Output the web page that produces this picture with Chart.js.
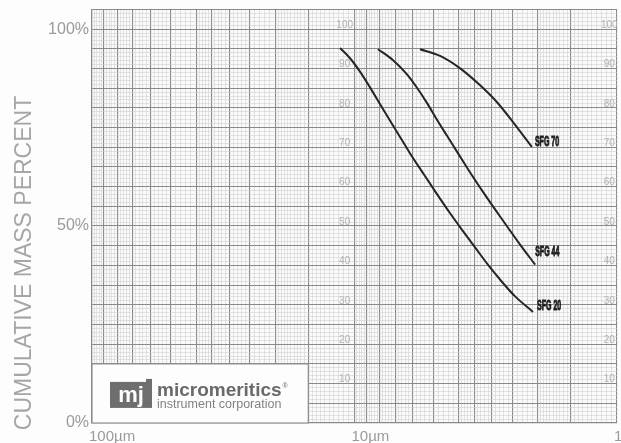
<!DOCTYPE html>
<html>
<head>
<meta charset="utf-8">
<title>Sedigraph SFG</title>
<script src="https://cdn.jsdelivr.net/npm/chart.js@4.4.1/dist/chart.umd.min.js"></script>
<style>
  html, body { margin: 0; padding: 0; background: #fdfdfd; }
  #wrap { width: 621px; height: 443px; }
</style>
</head>
<body>
<div id="wrap"><canvas id="chart" width="621" height="443"></canvas></div>
<script>
// particle size (µm) vs cumulative mass percent
const sfg20Size = [11.35, 10.4, 9.53, 8.73, 7.79, 6.89, 6.15, 5.49, 4.85, 4.33, 3.86, 3.44, 3.07, 2.74, 2.45, 2.09];
const sfg20Pct  = [95.2, 92.6, 89.2, 85.2, 79.7, 73.9, 68.5, 63.5, 58.1, 53.3, 48.7, 44.2, 39.8, 35.8, 32.2, 28.2];

const sfg44Size = [8.14, 7.13, 6.31, 5.78, 5.29, 4.85, 4.44, 4.07, 3.70, 3.13, 2.72, 2.34, 2.05];
const sfg44Pct  = [94.9, 92.1, 88.5, 85.1, 81.2, 77.0, 72.9, 68.9, 64.5, 57.2, 51.4, 45.3, 40.2];

const sfg70Size = [5.63, 4.72, 3.97, 3.33, 2.87, 2.49, 2.11];
const sfg70Pct  = [94.9, 93.2, 90.1, 85.8, 81.5, 76.4, 70.1];

const seriesNames = ["SFG 20", "SFG 44", "SFG 70"];

// axis labels
const xLabelValues = [100, 10, 1];
const xLabelText = ["100µm", "10µm", "1"];
const yLabelValues = [0, 50, 100];
const innerLabelValues = [100, 90, 80, 70, 60, 50, 40, 30, 20, 10];

// heavier lines of the log paper
const xMajor = [100, 90, 80, 70, 60, 50, 40, 35, 30, 25, 20, 15, 10, 9, 8, 7, 6, 5, 4, 3.5, 3, 2.5, 2, 1.5, 1];

const GRID_MAJOR = "#8a8a8a";
const GRID_MINOR = "#cbcbcb";
const LABEL_GREY = "#9a9a9a";
const FONT = "'Liberation Sans', Arial, sans-serif";

function isMajorX(v) {
  return xMajor.some(m => Math.abs(m - v) < 1e-6);
}

// fine lines: step 2 from 100 to 40, 1 to 20, 0.5 to 10, same again one decade down
function buildXGrid() {
  const bands = [[40, 100, 2], [20, 40, 1], [10, 20, 0.5]];
  const out = [100];
  for (const dec of [1, 0.1]) {
    for (const [a, b, s] of bands) {
      for (let v = a; v < b - 1e-9; v += s) out.push(+(v * dec).toFixed(4));
    }
  }
  return out.sort((p, q) => p - q);
}

const xGrid = buildXGrid();
const yGrid = [];
for (let v = 0; v <= 105; v++) yGrid.push(v);

const paperPlugin = {
  id: "paper",
  beforeDraw(chart) {
    const { ctx, chartArea: a } = chart;
    ctx.save();
    ctx.fillStyle = "#fdfdfd";
    ctx.fillRect(0, 0, chart.width, chart.height);
    ctx.fillStyle = "#fafafa";
    ctx.fillRect(a.left, a.top, a.right - a.left, a.bottom - a.top);
    ctx.restore();
  },
  beforeDatasetsDraw(chart) {
    const { ctx, scales: { x, y } } = chart;
    ctx.save();

    // percent figures printed on the paper
    ctx.font = "10px " + FONT;
    ctx.fillStyle = "#b3b3b3";
    ctx.textAlign = "center";
    ctx.textBaseline = "middle";
    for (const col of [10.9, 1.07]) {
      const cx = x.getPixelForValue(col);
      innerLabelValues.forEach(v => ctx.fillText(String(v), cx, y.getPixelForValue(v) - 4));
    }

    // logo panel, bottom left
    const l = x.getPixelForValue(100), r = x.getPixelForValue(15);
    const t = y.getPixelForValue(15), b = y.getPixelForValue(0);
    ctx.fillStyle = "#fdfdfd";
    ctx.fillRect(l, t, r - l, b - t);
    ctx.strokeStyle = GRID_MAJOR;
    ctx.lineWidth = 1.1;
    ctx.strokeRect(l, t, r - l, b - t);

    ctx.fillStyle = "#6e6e6e";
    ctx.fillRect(l + 18, t + 18, 42, 26);
    ctx.fillRect(l + 54, t + 15, 6, 4);
    ctx.fillStyle = "#fdfdfd";
    ctx.font = "bold 22px " + FONT;
    ctx.textAlign = "center";
    ctx.textBaseline = "alphabetic";
    ctx.fillText("mj", l + 39, t + 38);

    ctx.textAlign = "left";
    ctx.fillStyle = "#6a6a6a";
    ctx.font = "bold 19px " + FONT;
    ctx.fillText("micromeritics", l + 65, t + 32);
    const w = ctx.measureText("micromeritics").width;
    ctx.font = "7px " + FONT;
    ctx.fillText("®", l + 66 + w, t + 24);
    ctx.fillStyle = "#828282";
    ctx.font = "12.5px " + FONT;
    ctx.fillText("instrument corporation", l + 65, t + 44);
    ctx.restore();
  },
  afterDatasetsDraw(chart) {
    const { ctx } = chart;
    const shift = [[4, -6], [0, -13], [3, -5]]; // px from the end of each line
    chart.data.datasets.forEach((ds, i) => {
      const pts = chart.getDatasetMeta(i).data;
      const end = pts[pts.length - 1];
      ctx.save();
      ctx.translate(end.x + shift[i][0], end.y + shift[i][1]);
      ctx.scale(0.47, 1);
      ctx.font = "bold 15px " + FONT;
      ctx.fillStyle = "#1e1e1e";
      ctx.strokeStyle = "#1e1e1e";
      ctx.lineWidth = 1;
      ctx.textBaseline = "middle";
      ctx.fillText(ds.label, 0, 0);
      ctx.strokeText(ds.label, 0, 0);
      ctx.restore();
    });
  },
  afterDraw(chart) {
    const { ctx, chartArea: a, scales: { x } } = chart;
    ctx.save();
    ctx.fillStyle = LABEL_GREY;
    ctx.font = "15px " + FONT;
    ctx.textAlign = "left";
    ctx.textBaseline = "alphabetic";
    xLabelValues.forEach((v, i) => ctx.fillText(xLabelText[i], x.getPixelForValue(v) - 3, a.bottom + 18));

    ctx.translate(31, 263);
    ctx.rotate(-Math.PI / 2);
    ctx.font = "23px " + FONT;
    ctx.fillStyle = "#a6a6a6";
    ctx.textAlign = "center";
    ctx.fillText("CUMULATIVE MASS PERCENT", 0, 0);
    ctx.restore();
  }
};

const sizes = [sfg20Size, sfg44Size, sfg70Size];
const pcts = [sfg20Pct, sfg44Pct, sfg70Pct];

new Chart(document.getElementById("chart"), {
  type: "line",
  data: {
    datasets: seriesNames.map((name, i) => ({
      label: name,
      data: sizes[i].map((s, j) => ({ x: s, y: pcts[i][j] })),
      borderColor: "#252525",
      borderWidth: 2,
      pointRadius: 0,
      cubicInterpolationMode: "monotone",
      fill: false
    }))
  },
  options: {
    responsive: false,
    animation: false,
    layout: { padding: { top: 0, right: 4, bottom: 0, left: 0 } },
    plugins: { legend: { display: false }, tooltip: { enabled: false } },
    scales: {
      x: {
        type: "logarithmic",
        reverse: true,
        min: 1,
        max: 100,
        afterBuildTicks: axis => {
          axis.ticks = xGrid.map(v => ({ value: v, strong: isMajorX(v) }));
        },
        afterFit: axis => { axis.height = 20; },
        ticks: { display: false, autoSkip: false },
        grid: {
          drawTicks: false,
          color: c => (c.tick && c.tick.strong ? GRID_MAJOR : GRID_MINOR),
          lineWidth: c => (c.tick && c.tick.strong ? 1.1 : 0.5)
        },
        border: { color: GRID_MAJOR, width: 1.2 }
      },
      y: {
        min: 0,
        max: 105,
        afterBuildTicks: axis => {
          axis.ticks = yGrid.map(v => ({ value: v, strong: v % 5 === 0 }));
        },
        afterFit: axis => { axis.width = 92; },
        ticks: {
          autoSkip: false,
          padding: 3,
          color: LABEL_GREY,
          font: { family: FONT, size: 16, lineHeight: 0.8 },
          callback: v => (yLabelValues.includes(v) ? v + "%" : "")
        },
        grid: {
          drawTicks: false,
          color: c => (c.tick && c.tick.strong ? GRID_MAJOR : GRID_MINOR),
          lineWidth: c => (c.tick && c.tick.strong ? 1.1 : 0.5)
        },
        border: { color: GRID_MAJOR, width: 1.2 }
      }
    }
  },
  plugins: [paperPlugin]
});
</script>
</body>
</html>
